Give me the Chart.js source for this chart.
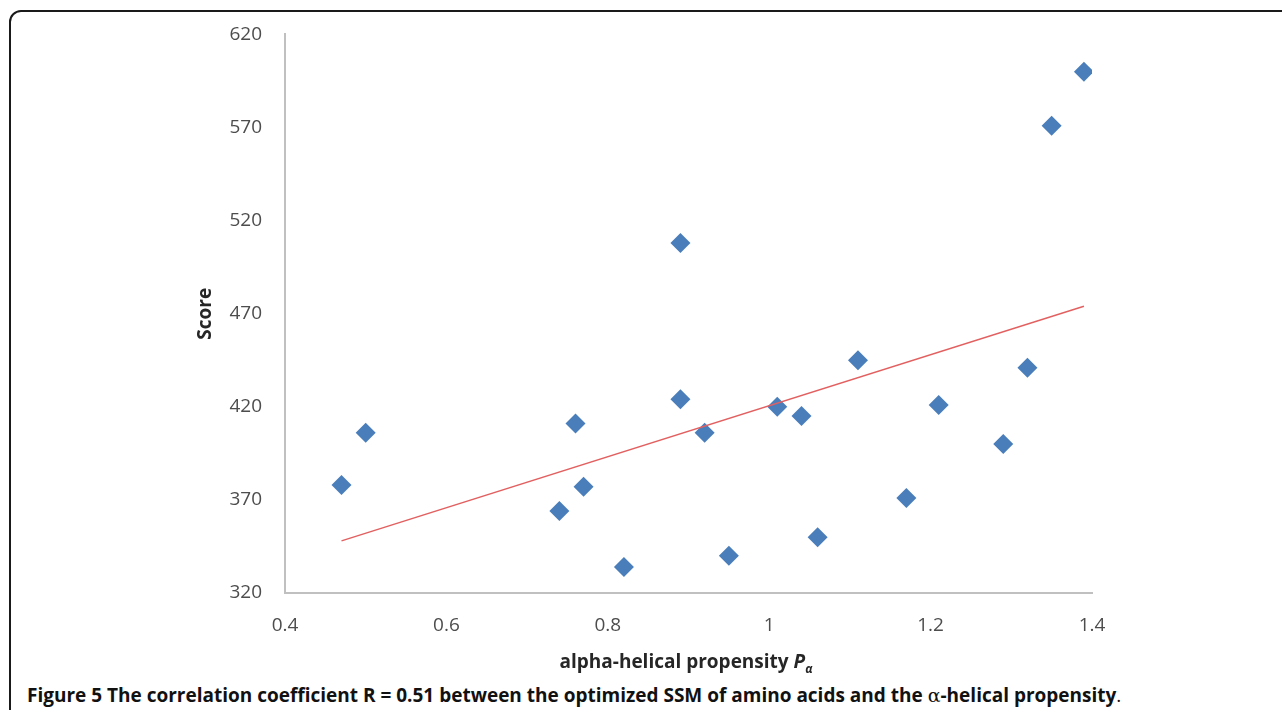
<!DOCTYPE html>
<html>
<head>
<meta charset="utf-8">
<script src="https://cdn.jsdelivr.net/npm/chart.js@4.4.0/dist/chart.umd.min.js"></script>
<style>
  html, body { margin: 0; padding: 0; background: #fff; width: 1282px; height: 710px; overflow: hidden; }
  #frame { position: absolute; left: 9px; top: 10px; width: 1290px; height: 760px; border: 2px solid #1a1a1a; border-radius: 12px; box-sizing: border-box; }
  #wrap { position: absolute; left: 0; top: 0; width: 1282px; height: 650px; }
  #xtitle { position: absolute; left: 0; width: 1372px; top: 648px; text-align: center; font-family: "Open Sans", sans-serif; font-weight: bold; font-size: 19px; color: #262626; }
  #xtitle sub { font-size: 12px; }
  #caption { position: absolute; left: 27px; top: 682px; font-family: "Open Sans", sans-serif; font-weight: bold; font-size: 19px; color: #111; white-space: nowrap; }
  #caption .n { font-weight: normal; }
  #caption .a { font-family: "DejaVu Serif", serif; font-weight: normal; }
</style>
</head>
<body>
<div id="frame"></div>
<div id="wrap"><canvas id="chart"></canvas></div>
<div id="xtitle">alpha-helical propensity <i>P</i><sub><i>α</i></sub></div>
<div id="caption">Figure 5 The correlation coefficient R = 0.51 between the optimized SSM of amino acids and the <span class="a">α</span>-helical propensity<span class="n">.</span></div>
<script>
// alpha-helical propensity (x) and optimized score (y)
const propensity = [0.47, 0.50, 0.74, 0.76, 0.77, 0.82, 0.89, 0.89, 0.92, 0.95, 1.01, 1.04, 1.06, 1.11, 1.17, 1.21, 1.29, 1.32, 1.35, 1.39];
const score = [378, 406, 364, 411, 377, 334, 508, 424, 406, 340, 420, 415, 350, 445, 371, 421, 400, 441, 571, 600];

// linear trend line end points
const trendX = [0.47, 1.39];
const trendY = [348, 474];

const xTicks = [0.4, 0.6, 0.8, 1, 1.2, 1.4];
const yTicks = [320, 370, 420, 470, 520, 570, 620];

const tickFont = { family: 'Open Sans', size: 19 };

const ctx = document.getElementById('chart');

new Chart(ctx, {
    type: 'scatter',
    data: {
        datasets: [{
            label: 'Trend',
            data: trendX.map((x, i) => ({ x: x, y: trendY[i] })),
            showLine: true,
            borderColor: 'rgb(226, 96, 96)',
            borderWidth: 1.5,
            pointRadius: 0,
            order: 0
        }, {
            label: 'Score',
            data: propensity.map((x, i) => ({ x: x, y: score[i] })),
            pointStyle: 'rectRot',
            pointRadius: 10,
            pointHoverRadius: 10,
            backgroundColor: 'rgb(74, 126, 187)',
            borderWidth: 0,
            order: 1
        }]
    },
    options: {
        responsive: true,
        maintainAspectRatio: false,
        animation: false,
        layout: {
            padding: { left: 190, top: 33, right: 190, bottom: 0 }
        },
        plugins: {
            legend: { display: false },
            tooltip: { enabled: false }
        },
        scales: {
            x: {
                type: 'linear',
                min: 0.4,
                max: 1.4,
                afterBuildTicks: s => { s.ticks = xTicks.map(v => ({ value: v })); },
                afterFit: s => { s.height = 57; },
                grid: { display: false, drawTicks: false },
                border: { display: true, color: '#c0c0c0', width: 2 },
                ticks: {
                    font: tickFont,
                    color: '#4d4d4d',
                    padding: 21,
                    maxRotation: 0,
                    callback: v => String(v)
                }
            },
            y: {
                type: 'linear',
                min: 320,
                max: 620,
                afterBuildTicks: s => { s.ticks = yTicks.map(v => ({ value: v })); },
                afterFit: s => { s.width = 95; },
                grid: { display: false, drawTicks: false },
                border: { display: true, color: '#c0c0c0', width: 2 },
                ticks: { font: tickFont, color: '#4d4d4d', padding: 23 },
                title: {
                    display: true,
                    text: 'Score',
                    font: { family: 'Open Sans', size: 19, weight: 'bold' },
                    color: '#262626',
                    padding: 4
                }
            }
        }
    }
});
</script>
</body>
</html>
